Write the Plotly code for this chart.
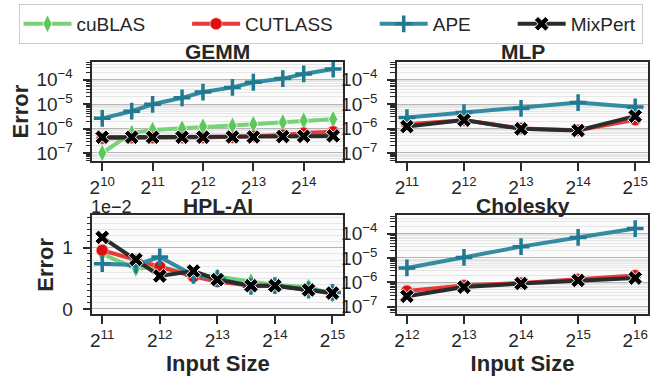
import numpy as np
import plotly.graph_objects as go

# ---------------- data ----------------
series_names = ["cuBLAS", "CUTLASS", "APE", "MixPert"]

gemm_sizes = [1024, 1536, 2048, 3072, 4096, 6144, 8192, 12288, 16384, 24576]
gemm_cublas = [1.0e-7, 6.5e-7, 8.7e-7, 1.0e-6, 1.2e-6, 1.3e-6, 1.5e-6, 1.8e-6, 2.1e-6, 2.4e-6]
gemm_cutlass = [4.0e-7, 4.2e-7, 4.2e-7, 4.3e-7, 4.3e-7, 4.4e-7, 4.8e-7, 5.4e-7, 6.5e-7, 7.4e-7]
gemm_ape = [2.6e-6, 5.1e-6, 9.8e-6, 1.8e-5, 3.1e-5, 4.8e-5, 7.8e-5, 1.1e-4, 1.7e-4, 2.7e-4]
gemm_mixpert = [4.4e-7, 4.4e-7, 4.4e-7, 4.4e-7, 4.4e-7, 4.5e-7, 4.5e-7, 4.7e-7, 4.8e-7, 5.0e-7]

mlp_sizes = [2048, 4096, 8192, 16384, 32768]
mlp_cutlass = [1.5e-6, 2.2e-6, 1.0e-6, 8.5e-7, 2.3e-6]
mlp_ape = [2.8e-6, 4.5e-6, 6.6e-6, 1.15e-5, 7.6e-6]
mlp_mixpert = [1.2e-6, 2.2e-6, 9.7e-7, 8.3e-7, 3.2e-6]

hpl_sizes = [2048, 3072, 4096, 6144, 8192, 12288, 16384, 24576, 32768]
hpl_cublas = [0.0090, 0.0066, 0.0070, 0.0055, 0.0053, 0.0045, 0.0039, 0.0036, 0.0024]
hpl_cutlass = [0.0096, 0.0080, 0.0069, 0.0053, 0.0045, 0.0038, 0.0038, 0.0031, 0.0026]
hpl_ape = [0.0074, 0.0072, 0.0085, 0.0055, 0.0050, 0.0037, 0.0038, 0.0031, 0.0027]
hpl_mixpert = [0.0117, 0.0081, 0.0054, 0.0062, 0.0048, 0.0038, 0.0038, 0.0031, 0.0026]

chol_sizes = [4096, 8192, 16384, 32768, 65536]
chol_cutlass = [4.4e-7, 7.4e-7, 9.5e-7, 1.3e-6, 1.9e-6]
chol_ape = [3.9e-6, 1.05e-5, 2.9e-5, 6.9e-5, 1.6e-4]
chol_mixpert = [2.7e-7, 6.4e-7, 9.0e-7, 1.2e-6, 1.5e-6]

titles = ["GEMM", "MLP", "HPL-AI", "Cholesky"]
log_y_ticks = [1e-7, 1e-6, 1e-5, 1e-4]
log_y_labels = ["10<sup>−7</sup>", "10<sup>−6</sup>", "10<sup>−5</sup>", "10<sup>−4</sup>"]
hpl_y_ticks = [0.0, 0.01]
hpl_y_labels = ["0", "1"]

# ---------------- styles ----------------
FONT = "Liberation Sans, Arial, sans-serif"
TXT = "#262626"
PAD = "\u00a0" * 7  # extra spacing after legend labels
styles = {
    "cuBLAS": dict(line=dict(color="#79d279", width=4),
                   marker=dict(symbol="diamond-tall", size=13, color="#5cc85c",
                               line=dict(color="white", width=0.8))),
    "CUTLASS": dict(line=dict(color="#e83a3a", width=4),
                    marker=dict(symbol="circle", size=12, color="#dd1010",
                                line=dict(color="#f6b0b0", width=0.8))),
    "APE": dict(line=dict(color="#348ca3", width=4),
                marker=dict(symbol="cross-thin", size=12, color="#1f7a92",
                            line=dict(color="#1f7a92", width=3.5))),
    "MixPert": dict(line=dict(color="#2b2b2b", width=4),
                    marker=dict(symbol="x", size=13, color="black",
                                line=dict(color="white", width=1))),
}

panels = [
    (gemm_sizes, {"cuBLAS": gemm_cublas, "CUTLASS": gemm_cutlass, "APE": gemm_ape, "MixPert": gemm_mixpert}),
    (mlp_sizes, {"CUTLASS": mlp_cutlass, "APE": mlp_ape, "MixPert": mlp_mixpert}),
    (hpl_sizes, {"cuBLAS": hpl_cublas, "CUTLASS": hpl_cutlass, "APE": hpl_ape, "MixPert": hpl_mixpert}),
    (chol_sizes, {"CUTLASS": chol_cutlass, "APE": chol_ape, "MixPert": chol_mixpert}),
]

fig = go.Figure()
for i, (sizes, data) in enumerate(panels):
    ax = "" if i == 0 else str(i + 1)
    for name in series_names:
        if name not in data:
            continue
        fig.add_trace(go.Scatter(
            x=sizes, y=data[name], mode="lines+markers",
            name=(name + PAD) if name != series_names[-1] else name,
            legendgroup=name, showlegend=(i == 0),
            xaxis="x" + ax, yaxis="y" + ax, **styles[name]))

W, H = 660, 381
xdom = [(90 / W, 343 / W), (397 / W, 650 / W), (90 / W, 343 / W), (397 / W, 650 / W)]
ydom = [(1 - 163.3 / H, 1 - 62.7 / H), (1 - 163.3 / H, 1 - 62.7 / H),
        (1 - 318.3 / H, 1 - 218.3 / H), (1 - 318.3 / H, 1 - 218.3 / H)]
xranges_log2 = [(9.803, 14.788), (10.826, 15.226), (10.828, 15.19), (11.826, 16.226)]
xticks_exp = [range(10, 15), range(11, 16), range(11, 16), range(12, 17)]

minor_log = [k * 10.0 ** e for e in range(-8, -2) for k in range(2, 10)]
minor_lin = list(np.round(np.arange(-0.001, 0.016, 0.001), 4))

axis_common = dict(showline=True, linecolor="#2a2a2a", linewidth=1.6, mirror=True,
                   ticks="outside", tickcolor="#2a2a2a", zeroline=False)

layout = dict(
    width=W, height=H, margin=dict(l=0, r=0, t=0, b=0),
    paper_bgcolor="white", plot_bgcolor="#fbfbfb",
    font=dict(family=FONT, color=TXT),
    showlegend=True,
    legend=dict(orientation="h", x=0.5, xanchor="center", y=1 - 4 / H, yanchor="top",
                bordercolor="#cccccc", borderwidth=1, bgcolor="white",
                font=dict(family=FONT, size=19, color=TXT),
                itemwidth=48, tracegroupgap=0),
)
annotations = []
for i in range(4):
    ax = "" if i == 0 else str(i + 1)
    lo, hi = xranges_log2[i]
    xa = dict(axis_common, domain=list(xdom[i]), anchor="y" + ax, type="log",
              range=[lo * np.log10(2), hi * np.log10(2)],
              tickvals=[2 ** e for e in xticks_exp[i]],
              ticktext=["2<sup>%d</sup>" % e for e in xticks_exp[i]],
              tickfont=dict(family=FONT, size=19, color=TXT),
              ticklen=8, tickwidth=1.6, showgrid=False)
    if i >= 2:
        xa["title"] = dict(text="<b>Input Size</b>", font=dict(family=FONT, size=22, color=TXT),
                           standoff=6)
    if i == 2:
        ya = dict(axis_common, domain=list(ydom[i]), anchor="x" + ax, type="linear",
                  range=[-0.00085, 0.0153], tickvals=hpl_y_ticks, ticktext=hpl_y_labels,
                  tickfont=dict(family=FONT, size=19, color=TXT), ticklabelstandoff=6,
                  ticklen=8, tickwidth=1.6, showgrid=True, gridcolor="#b5b5b5", gridwidth=1,
                  minor=dict(tickvals=minor_lin, ticklen=4, tickwidth=1, tickcolor="#2a2a2a",
                             ticks="outside", showgrid=True, gridcolor="#e6e6e6", gridwidth=1))
    else:
        yr = [-7.335, -3.275] if i < 2 else [-7.3, -3.26]
        ya = dict(axis_common, domain=list(ydom[i]), anchor="x" + ax, type="log",
                  range=yr, tickvals=log_y_ticks, ticktext=log_y_labels,
                  tickfont=dict(family=FONT, size=19, color=TXT), ticklabelstandoff=6,
                  ticklen=8, tickwidth=2, showgrid=True, gridcolor="#b5b5b5", gridwidth=1,
                  minor=dict(tickvals=minor_log, ticklen=5, tickwidth=1, tickcolor="#2a2a2a",
                             ticks="outside", showgrid=True, gridcolor="#e6e6e6", gridwidth=1))
    if i in (0, 2):
        ya["title"] = dict(text="<b>Error</b>", font=dict(family=FONT, size=22, color=TXT),
                           standoff=2)
    layout["xaxis" + ax] = xa
    layout["yaxis" + ax] = ya
    annotations.append(dict(text="<b>%s</b>" % titles[i], xref="paper", yref="paper",
                            x=(xdom[i][0] + xdom[i][1]) / 2, y=ydom[i][1], yanchor="bottom",
                            xanchor="center", showarrow=False, yshift=(-3 if i < 2 else -4),
                            font=dict(family=FONT, size=21, color=TXT)))

annotations.append(dict(text="1e−2", xref="paper", yref="paper", x=xdom[2][0], y=ydom[2][1],
                        xanchor="left", yanchor="bottom", showarrow=False, xshift=-3, yshift=-4,
                        font=dict(family=FONT, size=18, color=TXT)))
layout["annotations"] = annotations
fig.update_layout(**layout)
fig.write_html("out.html")
